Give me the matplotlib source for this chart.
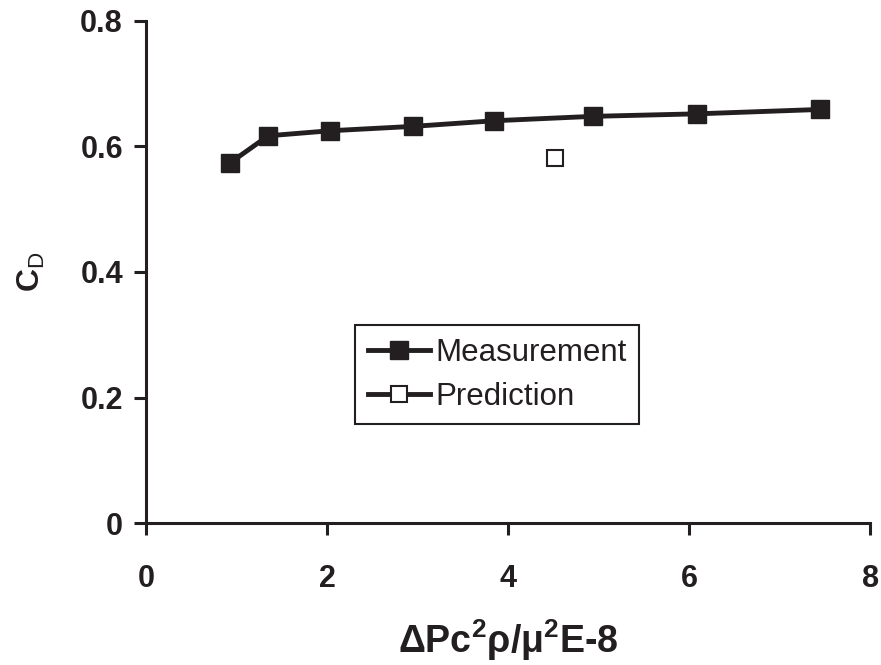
import matplotlib
matplotlib.use("Agg")
import matplotlib.pyplot as plt
from matplotlib.lines import Line2D

plt.rcParams["font.family"] = ["Liberation Sans", "DejaVu Sans"]
plt.rcParams["mathtext.fontset"] = "custom"
plt.rcParams["mathtext.rm"] = "Liberation Sans"
plt.rcParams["mathtext.it"] = "Liberation Sans"
plt.rcParams["mathtext.bf"] = "Liberation Sans:bold"

# values
meas_x = [0.93, 1.35, 2.03, 2.95, 3.85, 4.94, 6.09, 7.45]
meas_cd = [0.574, 0.617, 0.625, 0.632, 0.641, 0.648, 0.652, 0.659]
pred_x = [4.52]
pred_cd = [0.581]

ink = "#231f20"

fig = plt.figure(figsize=(8.81, 6.65), dpi=100)
ax = fig.add_axes([0.1657, 0.2135, 0.822, 0.755])

ax.plot(meas_x, meas_cd, color=ink, lw=3.5, marker="s", ms=12.5,
        label="Measurement")
ax.plot(pred_x, pred_cd, color=ink, marker="s", ms=12,
        mfc="white", mew=1.5, linestyle="none", label="Prediction")

ax.set_xlim(0, 8)
ax.set_ylim(0, 0.8)
ax.set_xticks([0, 2, 4, 6, 8])
ax.set_yticks([0, 0.2, 0.4, 0.6, 0.8])
ax.set_yticklabels(["0", "0.2", "0.4", "0.6", "0.8"])

for s in ["top", "right"]:
    ax.spines[s].set_visible(False)
for s in ["left", "bottom"]:
    ax.spines[s].set_linewidth(2.2)
    ax.spines[s].set_color(ink)

ax.tick_params(axis="both", length=8.6, width=2.2, color=ink,
               labelsize=22, pad=8)
ax.tick_params(axis="x", pad=21)
for lab in ax.get_xticklabels() + ax.get_yticklabels():
    lab.set_fontweight("bold")
    lab.set_color(ink)

ax.set_xlabel(r"$\mathbf{ΔPc^{2}ρ/μ^{2}E}$-8", fontsize=27, fontweight="bold",
              color=ink, labelpad=17)
ax.set_ylabel(r"$\mathbf{C}_{\mathrm{D}}$", fontsize=23, color=ink,
              labelpad=24)

h1 = Line2D([], [], color=ink, lw=3.5, marker="s", ms=12.5)
h2 = Line2D([], [], color=ink, lw=3.5, marker="s", ms=12,
            mfc="white", mew=1.5)
leg = ax.legend([h1, h2], ["Measurement", "Prediction"], fontsize=22.5,
                loc="upper left", bbox_to_anchor=(0.289, 0.394),
                handlelength=2.0, handletextpad=0.15, borderpad=0.4,
                labelspacing=0.45, borderaxespad=0, fancybox=False,
                framealpha=1)
leg.get_frame().set_edgecolor(ink)
leg.get_frame().set_linewidth(1.5)
for t in leg.get_texts():
    t.set_color(ink)

fig.savefig("out.png", dpi=100)
